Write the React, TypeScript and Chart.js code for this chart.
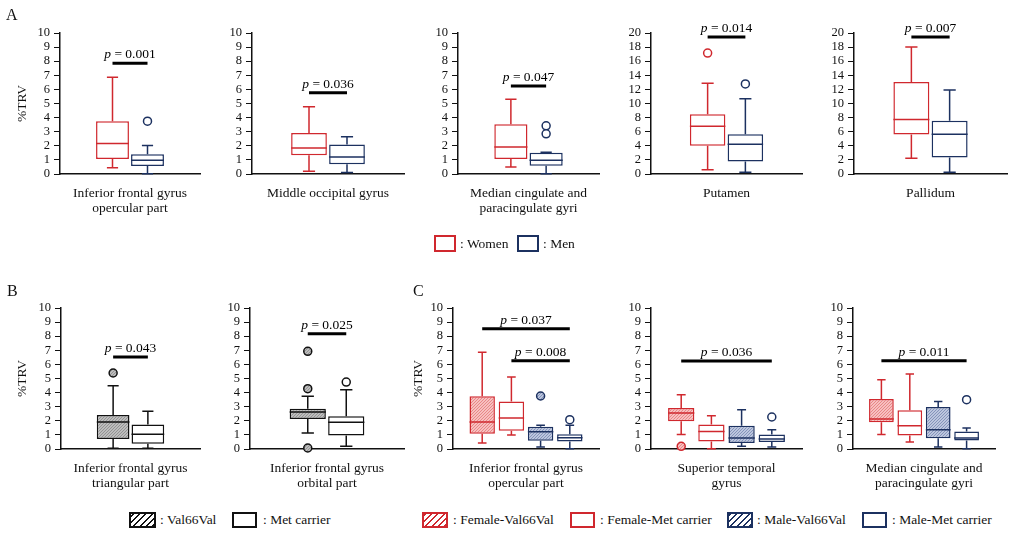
import React, { useEffect, useRef } from "react";
import { Chart, registerables } from "chart.js";
Chart.register(...registerables);

const FONT = "'Liberation Serif', 'Times New Roman', Times, serif";
const RED = "#d0282e";
const NAVY = "#1c3160";
const BLACK = "#111111";

// ---------- A: Women vs Men ----------
const regionsA: string[][] = [
  ["Inferior frontal gyrus", "opercular part"],
  ["Middle occipital gyrus"],
  ["Median cingulate and", "paracingulate gyri"],
  ["Putamen"],
  ["Pallidum"],
];
const groupsA = ["Women", "Men"];
// [min, Q1, median, Q3, max]
const womenA = [
  [0.45, 1.07, 2.16, 3.75, 6.86],
  [0.19, 1.33, 1.85, 2.9, 4.77],
  [0.5, 1.07, 1.92, 3.52, 5.3],
  [0.62, 3.99, 6.79, 8.46, 12.87],
  [2.23, 5.6, 7.74, 13.06, 18.0],
];
const menA = [
  [0.02, 0.57, 0.97, 1.4, 2.02],
  [0.1, 0.69, 1.21, 2.09, 2.64],
  [0.02, 0.59, 0.97, 1.5, 1.54],
  [0.24, 1.76, 4.23, 5.65, 10.69],
  [0.24, 2.33, 5.65, 7.55, 11.92],
];
const womenOutA = [[], [], [], [17.15], []];
const menOutA = [[3.75], [], [3.42, 2.85], [12.78], []];
const yMaxA = [10, 10, 10, 20, 20];
const yStepA = [1, 1, 1, 2, 2];
const pA = ["0.001", "0.036", "0.047", "0.014", "0.007"];
const pYA = [7.86, 5.77, 6.25, 19.43, 19.43];

// ---------- B: Val66Val vs Met carrier ----------
const regionsB: string[][] = [
  ["Inferior frontal gyrus", "triangular part"],
  ["Inferior frontal gyrus", "orbital part"],
];
const groupsB = ["Val66Val", "Met carrier"];
const valB = [
  [0.05, 0.71, 1.91, 2.41, 4.49],
  [1.13, 2.13, 2.62, 2.86, 3.74],
];
const metB = [
  [0.05, 0.38, 1.04, 1.73, 2.67],
  [0.19, 0.95, 1.89, 2.32, 4.21],
];
const valOutB = [[5.39], [6.93, 4.28, 0.07]];
const metOutB = [[], [4.75]];
const pB = ["0.043", "0.025"];
const pYB = [6.52, 8.18];

// ---------- C: sex x genotype ----------
const regionsC: string[][] = [
  ["Inferior frontal gyrus", "opercular part"],
  ["Superior temporal", "gyrus"],
  ["Median cingulate and", "paracingulate gyri"],
];
const groupsC = ["Female-Val66Val", "Female-Met carrier", "Male-Val66Val", "Male-Met carrier"];
const femValC = [
  [0.43, 1.09, 1.91, 3.74, 6.86],
  [1.02, 1.96, 2.55, 2.9, 3.85],
  [1.02, 1.89, 2.13, 3.55, 4.92],
];
const femMetC = [
  [0.99, 1.3, 2.2, 3.36, 5.1],
  [0.02, 0.54, 1.25, 1.73, 2.36],
  [0.5, 0.95, 1.65, 2.74, 5.32],
];
const maleValC = [
  [0.14, 0.59, 1.23, 1.58, 1.68],
  [0.19, 0.43, 0.78, 1.65, 2.79],
  [0.14, 0.76, 1.37, 2.98, 3.36],
];
const maleMetC = [
  [0.02, 0.54, 0.8, 1.04, 1.68],
  [0.14, 0.5, 0.71, 1.02, 1.37],
  [0.02, 0.61, 0.78, 1.25, 1.49],
];
const femValOutC = [[], [0.19], []];
const femMetOutC = [[], [], []];
const maleValOutC = [[3.76], [], []];
const maleMetOutC = [[2.08], [2.27], [3.5]];
const pC = [["0.037", "0.008"], ["0.036"], ["0.011"]];
const pYC = [[8.53, 6.26], [6.24], [6.26]];
const pFromC = [[0, 1], [0], [0]];
const pToC = [[3, 3], [3], [3]];

// ---------- component ----------
type BoxSpec = { label: string; stats: number[]; color: string; fill: string; outliers: number[]; outFill: string };
type SigSpec = { from: string; to: string; y: number; p: string };
type PanelProps = {
  axisL: number; axisR: number; top: number; height: number; padTop: number; xh: number;
  labels: string[]; offset: boolean; barPct: number;
  boxes: BoxSpec[]; yMax: number; yStep: number;
  caption: string[]; capPad: number; yTitle?: boolean; yTitlePad?: number; sig: SigSpec[];
};

function makePattern(bg: string, line: string): CanvasPattern | string {
  const c = document.createElement("canvas");
  c.width = 3; c.height = 3;
  const g = c.getContext("2d");
  if (!g) return bg;
  g.fillStyle = bg; g.fillRect(0, 0, 3, 3);
  g.strokeStyle = line; g.lineWidth = 0.9;
  g.beginPath();
  g.moveTo(0, 3); g.lineTo(3, 0);
  g.moveTo(-1, 1); g.lineTo(1, -1);
  g.moveTo(2, 4); g.lineTo(4, 2);
  g.stroke();
  return g.createPattern(c, "repeat") || bg;
}

function resolveFill(key: string): any {
  if (key === "grayHatch") return makePattern("#bdbdbd", "#8e8e8e");
  if (key === "redHatch") return makePattern("#f7c0c0", "#e58080");
  if (key === "blueHatch") return makePattern("#bcc6de", "#7f8fb6");
  return "#ffffff";
}

function Panel(props: PanelProps) {
  const ref = useRef<HTMLCanvasElement>(null);
  const left = props.axisL - 60;
  const width = props.axisR - props.axisL + 70;
  useEffect(() => {
    if (!ref.current) return;
    const { labels, boxes } = props;
    const fills: Record<string, any> = {};
    const getFill = (k: string) => (fills[k] = fills[k] || resolveFill(k));
    const boxFor = (l: string) => boxes.find((b) => b.label === l);
    const extras = {
      id: "boxExtras",
      afterDatasetsDraw(chart: any) {
        const ctx = chart.ctx;
        const xs = chart.scales.x;
        const ys = chart.scales.y;
        const meta = chart.getDatasetMeta(0);
        ctx.save();
        boxes.forEach((b) => {
          const idx = labels.indexOf(b.label);
          const el = meta.data[idx];
          const cx = el.x;
          const w = el.width;
          const [mn, q1, md, q3, mx] = b.stats;
          const cap = w * 0.34;
          ctx.strokeStyle = b.color;
          ctx.lineWidth = 1.5;
          ctx.beginPath();
          ctx.moveTo(cx - w / 2, ys.getPixelForValue(md));
          ctx.lineTo(cx + w / 2, ys.getPixelForValue(md));
          ctx.moveTo(cx, ys.getPixelForValue(q3));
          ctx.lineTo(cx, ys.getPixelForValue(mx));
          ctx.moveTo(cx - cap / 2, ys.getPixelForValue(mx));
          ctx.lineTo(cx + cap / 2, ys.getPixelForValue(mx));
          ctx.moveTo(cx, ys.getPixelForValue(q1));
          ctx.lineTo(cx, ys.getPixelForValue(mn));
          ctx.moveTo(cx - cap / 2, ys.getPixelForValue(mn));
          ctx.lineTo(cx + cap / 2, ys.getPixelForValue(mn));
          ctx.stroke();
        });
        props.sig.forEach((s) => {
          const x1 = xs.getPixelForValue(labels.indexOf(s.from));
          const x2 = xs.getPixelForValue(labels.indexOf(s.to));
          const y = ys.getPixelForValue(s.y);
          ctx.strokeStyle = "#000";
          ctx.lineWidth = 3;
          ctx.beginPath();
          ctx.moveTo(x1, y);
          ctx.lineTo(x2, y);
          ctx.stroke();
          const f1 = "italic 13.5px " + FONT;
          const f2 = "13.5px " + FONT;
          ctx.font = f1;
          const w1 = ctx.measureText("p").width;
          ctx.font = f2;
          const rest = " = " + s.p;
          const w2 = ctx.measureText(rest).width;
          const sx = (x1 + x2) / 2 - (w1 + w2) / 2;
          ctx.fillStyle = "#000";
          ctx.textBaseline = "alphabetic";
          ctx.textAlign = "left";
          ctx.font = f1;
          ctx.fillText("p", sx, y - 5);
          ctx.font = f2;
          ctx.fillText(rest, sx + w1, y - 5);
        });
        ctx.restore();
      },
    };
    const datasets: any[] = [
      {
        type: "bar",
        data: labels.map((l) => {
          const b = boxFor(l);
          return b ? [b.stats[1], b.stats[3]] : null;
        }),
        backgroundColor: labels.map((l) => {
          const b = boxFor(l);
          return b ? getFill(b.fill) : "#fff";
        }),
        borderColor: labels.map((l) => {
          const b = boxFor(l);
          return b ? b.color : "#fff";
        }),
        borderWidth: 1.5,
        borderSkipped: false,
        barPercentage: props.barPct,
        categoryPercentage: 1,
        order: 2,
      },
    ];
    boxes.forEach((b) => {
      if (!b.outliers.length) return;
      datasets.push({
        type: "scatter",
        data: b.outliers.map((v) => ({ x: b.label, y: v })),
        pointRadius: 4,
        pointBorderWidth: 1.5,
        borderColor: b.color,
        backgroundColor: getFill(b.outFill),
        pointBorderColor: b.color,
        pointBackgroundColor: getFill(b.outFill),
        clip: false,
        order: 1,
      });
    });
    const chart = new Chart(ref.current, {
      type: "bar",
      data: { labels, datasets },
      options: {
        animation: false,
        responsive: false,
        events: [],
        layout: { padding: { left: 0, right: 10, top: props.padTop, bottom: 0 } },
        plugins: { legend: { display: false }, tooltip: { enabled: false } },
        scales: {
          x: {
            type: "category",
            offset: props.offset,
            grid: { display: false, drawTicks: false },
            border: { display: true, color: BLACK, width: 1.5 },
            ticks: { display: false },
            title: {
              display: true,
              text: props.caption,
              color: BLACK,
              font: { family: FONT, size: 13.5, lineHeight: 15 / 13.5 },
              padding: { top: 0, bottom: props.capPad },
            },
            afterFit: (s: any) => { s.height = props.xh; },
          },
          y: {
            min: 0,
            max: props.yMax,
            ticks: { stepSize: props.yStep, autoSkip: false, color: BLACK, font: { family: FONT, size: 12.5 }, padding: 4 },
            grid: { display: true, drawOnChartArea: false, drawTicks: true, tickLength: 6, color: BLACK, lineWidth: 1 },
            border: { display: true, color: BLACK, width: 1.5 },
            title: {
              display: !!props.yTitle,
              text: "%TRV",
              color: BLACK,
              font: { family: FONT, size: 13.5, lineHeight: 15 / 13.5 },
              padding: { top: props.yTitlePad || 0, bottom: 0 },
            },
            afterFit: (s: any) => { s.width = 60; },
          },
        },
      } as any,
      plugins: [extras as any],
    });
    return () => chart.destroy();
  }, []);
  return (
    <canvas
      ref={ref}
      width={width}
      height={props.height}
      style={{ position: "absolute", left, top: props.top, width, height: props.height }}
    />
  );
}

function LegendItem(p: { x: number; y: number; w: number; h: number; color: string; hatch?: boolean; tx: number; ty: number; text: string }) {
  const bg = p.hatch
    ? `repeating-linear-gradient(-45deg, ${p.color} 0px, ${p.color} 1.5px, #ffffff 1.5px, #ffffff 4.5px)`
    : "#ffffff";
  return (
    <>
      <div
        style={{
          position: "absolute", left: p.x, top: p.y, width: p.w, height: p.h,
          border: `2px solid ${p.color}`, boxSizing: "border-box", background: bg,
        }}
      />
      <div
        style={{
          position: "absolute", left: p.tx, top: p.ty, fontFamily: FONT, fontSize: 13.5,
          lineHeight: "16px", color: BLACK, whiteSpace: "nowrap",
        }}
      >
        {p.text}
      </div>
    </>
  );
}

const labelsA = ["·L", ...groupsA, "·R"];
const labelsB = ["·L", ...groupsB, "·R"];
const labelsC = ["·L", ...groupsC, "·R"];

const axisAPos = [[60, 200], [252, 404], [458, 599], [651, 802], [854, 1007]];
const axisBPos = [[61, 200], [250, 404]];
const axisCPos = [[453, 599], [651, 802], [853, 995]];

export default function App() {
  const panelsA = regionsA.map((cap, i) => (
    <Panel
      key={"a" + i}
      axisL={axisAPos[i][0]} axisR={axisAPos[i][1]} top={0} height={218} padTop={33} xh={44}
      labels={labelsA} offset={true} barPct={0.94}
      boxes={[
        { label: groupsA[0], stats: womenA[i], color: RED, fill: "white", outliers: womenOutA[i], outFill: "white" },
        { label: groupsA[1], stats: menA[i], color: NAVY, fill: "white", outliers: menOutA[i], outFill: "white" },
      ]}
      yMax={yMaxA[i]} yStep={yStepA[i]}
      caption={cap} capPad={cap.length > 1 ? 2.5 : 17.5}
      yTitle={i === 0} yTitlePad={14.5}
      sig={[{ from: groupsA[0], to: groupsA[1], y: pYA[i], p: pA[i] }]}
    />
  ));
  const panelsB = regionsB.map((cap, i) => (
    <Panel
      key={"b" + i}
      axisL={axisBPos[i][0]} axisR={axisBPos[i][1]} top={280} height={218} padTop={28} xh={49}
      labels={labelsB} offset={true} barPct={0.94}
      boxes={[
        { label: groupsB[0], stats: valB[i], color: BLACK, fill: "grayHatch", outliers: valOutB[i], outFill: "grayHatch" },
        { label: groupsB[1], stats: metB[i], color: BLACK, fill: "white", outliers: metOutB[i], outFill: "white" },
      ]}
      yMax={10} yStep={1}
      caption={cap} capPad={7}
      yTitle={i === 0} yTitlePad={13.5}
      sig={[{ from: groupsB[0], to: groupsB[1], y: pYB[i], p: pB[i] }]}
    />
  ));
  const panelsC = regionsC.map((cap, i) => (
    <Panel
      key={"c" + i}
      axisL={axisCPos[i][0]} axisR={axisCPos[i][1]} top={280} height={218} padTop={28} xh={49}
      labels={labelsC} offset={false} barPct={0.87}
      boxes={[
        { label: groupsC[0], stats: femValC[i], color: RED, fill: "redHatch", outliers: femValOutC[i], outFill: "redHatch" },
        { label: groupsC[1], stats: femMetC[i], color: RED, fill: "white", outliers: femMetOutC[i], outFill: "white" },
        { label: groupsC[2], stats: maleValC[i], color: NAVY, fill: "blueHatch", outliers: maleValOutC[i], outFill: "blueHatch" },
        { label: groupsC[3], stats: maleMetC[i], color: NAVY, fill: "white", outliers: maleMetOutC[i], outFill: "white" },
      ]}
      yMax={10} yStep={1}
      caption={cap} capPad={7}
      yTitle={i === 0} yTitlePad={17.5}
      sig={pC[i].map((p, k) => ({ from: groupsC[pFromC[i][k]], to: groupsC[pToC[i][k]], y: pYC[i][k], p }))}
    />
  ));
  const panelLabel = (t: string, x: number, y: number) => (
    <div style={{ position: "absolute", left: x, top: y, fontFamily: FONT, fontSize: 16, lineHeight: "16px", color: BLACK }}>{t}</div>
  );
  return (
    <div style={{ position: "absolute", left: 0, top: 0, width: 1020, height: 541, background: "#fff", overflow: "hidden" }}>
      {panelsA}
      {panelsB}
      {panelsC}
      {panelLabel("A", 6, 7)}
      {panelLabel("B", 7, 283)}
      {panelLabel("C", 413, 283)}
      <LegendItem x={434} y={235} w={22} h={17} color={RED} tx={460} ty={236} text=": Women" />
      <LegendItem x={517} y={235} w={22} h={17} color={NAVY} tx={543} ty={236} text=": Men" />
      <LegendItem x={129} y={512} w={27} h={16} color={BLACK} hatch tx={160} ty={512} text=": Val66Val" />
      <LegendItem x={232} y={512} w={25} h={16} color={BLACK} tx={263} ty={512} text=": Met carrier" />
      <LegendItem x={422} y={512} w={26} h={16} color={RED} hatch tx={453} ty={512} text=": Female-Val66Val" />
      <LegendItem x={570} y={512} w={25} h={16} color={RED} tx={600} ty={512} text=": Female-Met carrier" />
      <LegendItem x={727} y={512} w={26} h={16} color={NAVY} hatch tx={757} ty={512} text=": Male-Val66Val" />
      <LegendItem x={862} y={512} w={25} h={16} color={NAVY} tx={892} ty={512} text=": Male-Met carrier" />
    </div>
  );
}
